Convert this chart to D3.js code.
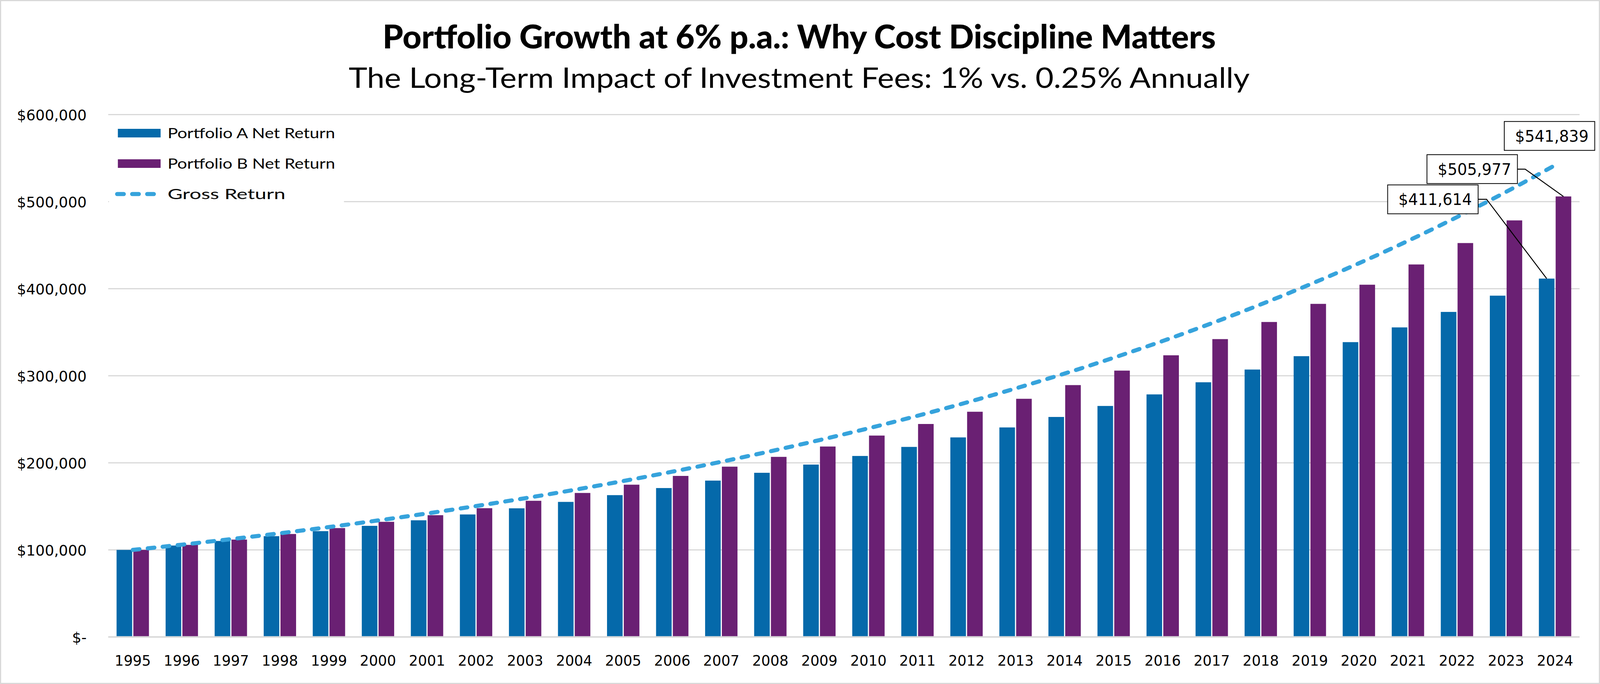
<!DOCTYPE html>
<html>
<head>
<meta charset="utf-8">
<script src="https://cdn.jsdelivr.net/npm/d3@7"></script>
<style>
  html, body { margin: 0; height: 100%; overflow: hidden; background: #fff; }
  #chart { width: 100%; height: 100%; }
  svg { display: block; font-family: Lato, "Noto Sans", sans-serif; }
</style>
</head>
<body>
<div id="chart"></div>
<script>
/**
 * DATA
 * */
const years = [1995, 1996, 1997, 1998, 1999, 2000, 2001, 2002, 2003, 2004,
  2005, 2006, 2007, 2008, 2009, 2010, 2011, 2012, 2013, 2014,
  2015, 2016, 2017, 2018, 2019, 2020, 2021, 2022, 2023, 2024];

const portfolioA = [100000, 105000, 110250, 115763, 121551, 127628, 134010, 140710, 147746, 155133,
  162889, 171034, 179586, 188565, 197993, 207893, 218287, 229202, 240662, 252695,
  265330, 278596, 292526, 307152, 322510, 338635, 355567, 373346, 392013, 411614];

const portfolioB = [100000, 105750, 111831, 118261, 125061, 132252, 139856, 147898, 156402, 165395,
  174906, 184963, 195598, 206845, 218739, 231316, 244617, 258682, 273556, 289286,
  305920, 323510, 342112, 361784, 382586, 404585, 427848, 452450, 478465, 505977];

const grossReturn = [100000, 106000, 112360, 119102, 126248, 133823, 141852, 150363, 159385, 168948,
  179085, 189830, 201220, 213293, 226090, 239656, 254035, 269277, 285434, 302560,
  320714, 339956, 360354, 381975, 404893, 429187, 454938, 482235, 511169, 541839];

const yTicks = [0, 100000, 200000, 300000, 400000, 500000, 600000];
const seriesNames = ["Portfolio A Net Return", "Portfolio B Net Return", "Gross Return"];
const titleText = "Portfolio Growth at 6% p.a.: Why Cost Discipline Matters";
const subtitleText = "The Long-Term Impact of Investment Fees: 1% vs. 0.25% Annually";

/**
 * CONSTANTS AND GLOBALS
 * */
const width = 4154,
  height = 1752,
  margin = { top: 293.5, bottom: 120.5, left: 281, right: 53 };

const colors = { A: "#0569aa", B: "#6a2073", gross: "#36a3dc", grid: "#d9d9d9" };
const numFont = "'DejaVu Sans', sans-serif";

const svg = d3.select("#chart")
  .append("svg")
  .attr("viewBox", `0 0 ${width} ${height}`)
  .attr("preserveAspectRatio", "none")
  .attr("width", "100%")
  .attr("height", "100%");

// squeeze a text to a measured width from the picture
function fit(sel, target) {
  const w = sel.node().getComputedTextLength();
  if (Math.abs(w - target) > 2) {
    sel.attr("textLength", target).attr("lengthAdjust", "spacingAndGlyphs");
  }
}

// outer frame
svg.append("rect")
  .attr("x", 1.5).attr("y", 1.5)
  .attr("width", width - 3).attr("height", height - 3)
  .attr("fill", "#fff")
  .attr("stroke", "#d9d9d9")
  .attr("stroke-width", 3);

/**********/
/* TITLES */
/**********/
const title = svg.append("text")
  .attr("x", 2075).attr("y", 124)
  .attr("text-anchor", "middle")
  .attr("font-size", 84)
  .attr("font-weight", 900)
  .attr("fill", "#000")
  .text(titleText);
fit(title, 2163);

const subtitle = svg.append("text")
  .attr("x", 2075).attr("y", 225)
  .attr("text-anchor", "middle")
  .attr("font-size", 72)
  .attr("font-weight", 400)
  .attr("fill", "#000")
  .text(subtitleText);
fit(subtitle, 2339);

/**********/
/* SCALES */
/**********/
const x0 = d3.scaleBand()
  .domain(years)
  .range([margin.left, width - margin.right])
  .paddingInner(0.34)
  .paddingOuter(0.17);

const x1 = d3.scaleBand()
  .domain(["A", "B"])
  .range([0, x0.bandwidth()])
  .paddingInner(0.07);

const y = d3.scaleLinear()
  .domain([0, 600000])
  .range([height - margin.bottom, margin.top]);

const cx = yr => x0(yr) + x0.bandwidth() / 2;

/********/
/* GRID */
/********/
svg.append("g")
  .selectAll("line")
  .data(yTicks)
  .join("line")
  .attr("x1", margin.left)
  .attr("x2", width - margin.right)
  .attr("y1", d => y(d))
  .attr("y2", d => y(d))
  .attr("stroke", colors.grid)
  .attr("stroke-width", d => d === 0 ? 4 : 3);

/********/
/* AXES */
/********/
const yAxis = d3.axisLeft(y)
  .tickValues(yTicks)
  .tickSize(0)
  .tickPadding(0)
  .tickFormat(d => d === 0 ? "$-" : d3.format("$,")(d));

svg.append("g")
  .attr("transform", `translate(225,0)`)
  .call(yAxis)
  .call(g => g.select(".domain").remove())
  .selectAll("text")
  .attr("font-family", numFont)
  .attr("font-size", 38)
  .attr("fill", "#000")
  .attr("dy", "0.36em");

const xAxis = d3.axisBottom(x0).tickSize(0).tickPadding(0);
svg.append("g")
  .attr("transform", `translate(0,1705)`)
  .call(xAxis)
  .call(g => g.select(".domain").remove())
  .selectAll("text")
  .attr("font-family", numFont)
  .attr("font-size", 37)
  .attr("fill", "#000")
  .attr("dy", 0);

/********/
/* BARS */
/********/
const rows = years.map((yr, i) => ({ year: yr, A: portfolioA[i], B: portfolioB[i], gross: grossReturn[i] }));

svg.append("g")
  .selectAll("g")
  .data(rows)
  .join("g")
  .attr("transform", d => `translate(${x0(d.year)},0)`)
  .selectAll("rect")
  .data(d => ["A", "B"].map(k => ({ key: k, value: d[k] })))
  .join("rect")
  .attr("x", d => x1(d.key))
  .attr("width", x1.bandwidth())
  .attr("y", d => y(d.value))
  .attr("height", d => y(0) - 2 - y(d.value))
  .attr("fill", d => colors[d.key]);

/**************/
/* GROSS LINE */
/**************/
const lineGen = d3.line()
  .x(d => cx(d.year))
  .y(d => y(d.gross))
  .curve(d3.curveMonotoneX);

svg.append("path")
  .datum(rows)
  .attr("d", lineGen)
  .attr("fill", "none")
  .attr("stroke", colors.gross)
  .attr("stroke-width", 10.5)
  .attr("stroke-linecap", "round")
  .attr("stroke-dasharray", "17.5,21.5");

/**********/
/* LEGEND */
/**********/
svg.append("rect")
  .attr("x", 283).attr("y", 305)
  .attr("width", 610).attr("height", 228)
  .attr("fill", "#fff");

const legend = svg.append("g");
seriesNames.forEach((name, i) => {
  const ly = 341 + i * 78;
  if (i < 2) {
    legend.append("rect")
      .attr("x", 306).attr("y", ly - 11)
      .attr("width", 111).attr("height", 22)
      .attr("fill", i === 0 ? colors.A : colors.B);
  } else {
    legend.append("line")
      .attr("x1", 304).attr("x2", 410)
      .attr("y1", ly).attr("y2", ly)
      .attr("stroke", colors.gross)
      .attr("stroke-width", 10.5)
      .attr("stroke-linecap", "round")
      .attr("stroke-dasharray", "17.5,21.5");
  }
  const t = legend.append("text")
    .attr("x", 435).attr("y", ly)
    .attr("dy", "0.35em")
    .attr("font-size", 37)
    .attr("fill", "#000")
    .text(name);
  fit(t, [435, 435, 306][i]);
});

/************/
/* CALLOUTS */
/************/
const last = rows[rows.length - 1];
const callouts = [
  { value: last.gross, ax: cx(last.year), ay: y(last.gross), dx: 103, dy: -75, leader: false },
  { value: last.B, ax: x0(last.year) + x1("B") + x1.bandwidth() / 2, ay: y(last.B), dx: -119.5, dy: -70, elbow: -99.5, leader: true },
  { value: last.A, ax: x0(last.year) + x1("A") + x1.bandwidth() / 2, ay: y(last.A), dx: -178, dy: -203, elbow: -156, leader: true }
];

const fmt = d3.format("$,");
callouts.forEach(c => {
  const right = c.ax + c.dx, cy = c.ay + c.dy;
  const g = svg.append("g");
  if (c.leader) {
    g.append("polyline")
      .attr("points", `${right},${cy} ${c.ax + c.elbow},${cy} ${c.ax},${c.ay}`)
      .attr("fill", "none")
      .attr("stroke", "#000")
      .attr("stroke-width", 2.5);
  }
  const box = g.append("rect").attr("fill", "#fff").attr("stroke", "#000").attr("stroke-width", 2);
  const t = g.append("text")
    .attr("x", right - 16).attr("y", cy)
    .attr("dy", "0.37em")
    .attr("text-anchor", "end")
    .attr("font-family", numFont)
    .attr("font-size", 40)
    .attr("fill", "#000")
    .text(fmt(c.value));
  const w = t.node().getComputedTextLength();
  box.attr("x", right - w - 44).attr("y", cy - 37)
    .attr("width", w + 44).attr("height", 74);
});
</script>
</body>
</html>
